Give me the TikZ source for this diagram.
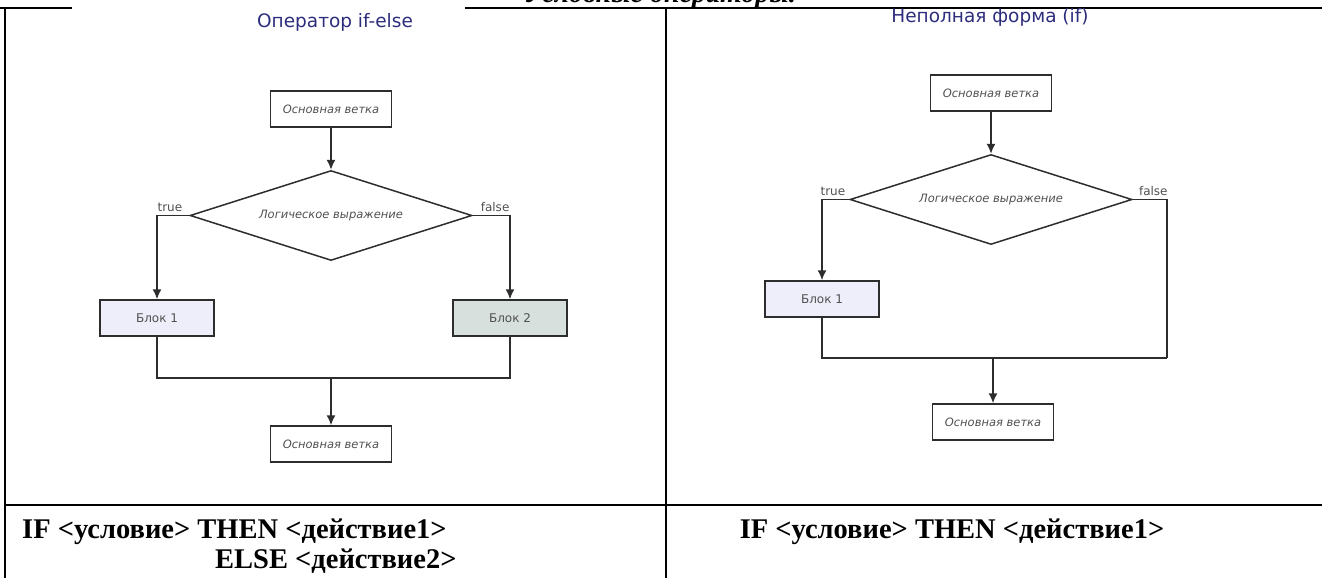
\documentclass[tikz,border=0pt]{standalone}
\usepackage{fontspec}
\setmainfont{Liberation Serif}
\newfontfamily\flowfont{DejaVu Sans}
\usetikzlibrary{arrows,arrows.meta}
\usetikzlibrary{positioning,shapes}
\definecolor{titleblue}{RGB}{45,45,125}
\definecolor{flowline}{RGB}{45,45,45}
\definecolor{flowtext}{RGB}{80,80,80}
\definecolor{blockone}{RGB}{238,238,250}
\definecolor{blocktwo}{RGB}{216,224,222}
\def\fs#1{\fontsize{#1}{#1}\selectfont}

\begin{document}
\begin{tikzpicture}[%
      x=1pt, y=-1pt,
      every node/.style={inner sep=0pt},
      box/.style={rectangle, draw=flowline, line width=1.5pt, minimum width=121pt,
        minimum height=36pt, text=flowtext, font=\flowfont\fs{11.5}\itshape},
      block/.style={box, minimum width=114pt, font=\flowfont\fs{12}},
      cond/.style={diamond, aspect=3.13, draw=flowline, line width=1.5pt, minimum width=282pt,
        minimum height=90pt, text=flowtext, font=\flowfont\fs{11.5}\itshape},
      label/.style={text=flowtext, font=\flowfont\fs{12}},
      head/.style={text=titleblue, font=\flowfont\fs{18.5}},
      code/.style={font=\bfseries\fs{28.5}, anchor=base west},
      node distance=42pt, >={Latex[length=10pt,width=9pt]}
    ]
    \useasboundingbox (0,0) rectangle (1322,578);
    % table frame
    \node (title) [anchor=base, font=\bfseries\itshape\fs{28}] at (660,3) {Условные операторы.};
    \draw [line width=2pt] (0,8) -- (72,8) (465,8) -- (1322,8);
    \draw [line width=2pt] (5,8) -- (5,578) (666,8) -- (666,578);
    \draw [line width=2pt] (5,505) -- (1322,505);

    % if-else
    \node (lt) [head] at (335,22) {Оператор if-else};
    \node (l0) [box] at (331,109) {Основная ветка};
    \node (l1) [cond, below=of l0] {Логическое выражение};
    \node (l2) [block, fill=blockone] at (157,318) {Блок 1};
    \node (l3) [block, fill=blocktwo] at (510,318) {Блок 2};
    \node (l4) [box] at (331,444) {Основная ветка};
    \coordinate (lj) at (331,378);
    \draw [flowline, line width=1.5pt, ->] (l0) -- (l1);
    \draw [flowline, line width=1.5pt, ->] (l1.west) -| node[label, above=3pt, pos=0.3] {true} (l2);
    \draw [flowline, line width=1.5pt, ->] (l1.east) -| node[label, above=3pt, pos=0.3] {false} (l3);
    \draw [flowline, line width=1.5pt] (l2) |- (lj) -| (l3);
    \draw [flowline, line width=1.5pt, ->] (lj) -- (l4);

    % if
    \node (rt) [head] at (990,17) {Неполная форма (if)};
    \node (r0) [box] at (991,93) {Основная ветка};
    \node (r1) [cond, below=of r0] {Логическое выражение};
    \node (r2) [block, fill=blockone] at (822,299) {Блок 1};
    \node (r3) [box] at (993,422) {Основная ветка};
    \coordinate (rc) at (1167,358);
    \coordinate (rj) at (993,358);
    \draw [flowline, line width=1.5pt, ->] (r0) -- (r1);
    \draw [flowline, line width=1.5pt, ->] (r1.west) -| node[label, above=3pt, pos=0.3] {true} (r2);
    \draw [flowline, line width=1.5pt] (r1.east) -| node[label, above=3pt, pos=0.3] {false} (rc);
    \draw [flowline, line width=1.5pt] (r2) |- (rc);
    \draw [flowline, line width=1.5pt, ->] (rj) -- (r3);

    % code text
    \node (c0) [code] at (22,538) {IF <условие> THEN <действие1>};
    \node (c1) [code] at (215,568) {ELSE <действие2>};
    \node (c2) [code, anchor=base] at (952,538) {IF <условие> THEN <действие1>};
  \end{tikzpicture}
\end{document}
